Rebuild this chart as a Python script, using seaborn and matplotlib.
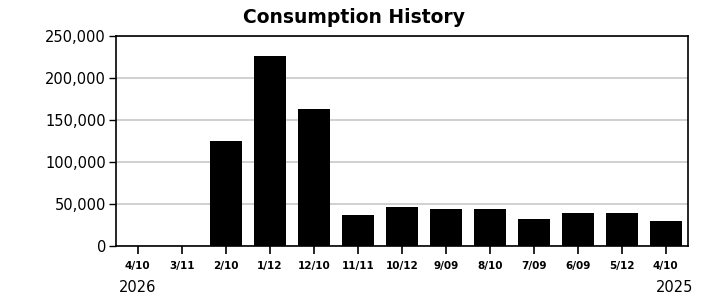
import matplotlib
matplotlib.use("Agg")
import matplotlib.pyplot as plt
import seaborn as sns
import pandas as pd
from matplotlib.ticker import FuncFormatter

sns.set_style("white")
plt.rcParams["font.family"] = ["DejaVu Sans"]
plt.rcParams["text.color"] = "black"
plt.rcParams["xtick.color"] = "black"
plt.rcParams["ytick.color"] = "black"

# data
periods = ["4/10", "3/11", "2/10", "1/12", "12/10", "11/11", "10/12",
           "9/09", "8/10", "7/09", "6/09", "5/12", "4/10"]
usage = [0, 0, 124500, 225500, 162500, 37400, 46400,
         43700, 43700, 32100, 38900, 38900, 29400]
y_ticks = [0, 50000, 100000, 150000, 200000, 250000]

df = pd.DataFrame({"pos": range(len(periods)), "usage": usage})

fig = plt.figure(figsize=(7.06, 2.99), dpi=100)
ax = fig.add_axes([0.164, 0.177, 0.810, 0.703])

sns.barplot(data=df, x="pos", y="usage", color="black", width=0.73,
            saturation=1, linewidth=0, edgecolor="none", ax=ax, zorder=3)

ax.set_xlim(-0.5, len(periods) - 0.5)
ax.set_ylim(0, 250000)
ax.set_yticks(y_ticks)
ax.yaxis.set_major_formatter(FuncFormatter(lambda v, p: f"{int(v):,}"))
ax.set_xticks(range(len(periods)))
ax.set_xticklabels(periods, fontsize=7.5, fontweight="bold")
ax.tick_params(axis="y", labelsize=10.5, length=5, width=1, direction="out",
               left=True, pad=2)
ax.tick_params(axis="x", length=6, width=1.2, direction="out",
               bottom=True, pad=5)
ax.set_xlabel("")
ax.set_ylabel("")

ax.grid(axis="y", color="#c8c8c8", linewidth=1.2, zorder=0)
for side in ["left", "bottom", "top", "right"]:
    ax.spines[side].set_visible(True)
    ax.spines[side].set_color("black")
    ax.spines[side].set_linewidth(1.2)

fig.text(0.502, 0.94, "Consumption History", ha="center", va="center",
         fontsize=13.5, fontweight="bold")
fig.text(0.168, 0.04, "2026", ha="left", va="center", fontsize=10.5)
fig.text(0.982, 0.04, "2025", ha="right", va="center", fontsize=10.5)

fig.savefig("out.png", dpi=100, facecolor="white")
